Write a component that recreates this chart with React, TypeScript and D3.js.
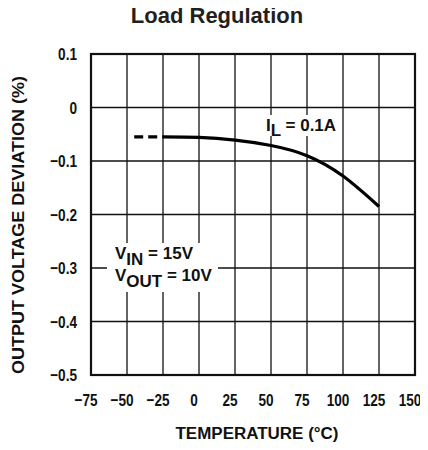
import React, { useEffect, useRef } from 'react';
import * as d3 from 'd3';

const xTicks = [-75, -50, -25, 0, 25, 50, 75, 100, 125, 150];
const yTicks = [0.1, 0, -0.1, -0.2, -0.3, -0.4, -0.5];

// measured curve, I_L = 0.1A
const tempSolid = [-25, 0, 25, 50, 75, 100, 125];
const devSolid = [-0.055, -0.056, -0.061, -0.071, -0.09, -0.128, -0.185];
// extrapolated (dashed) part
const tempDashed = [-45, -25];
const devDashed = [-0.055, -0.055];

const face = "'Liberation Sans', Arial, sans-serif";
const sx = 0.8; // squeeze to mimic a condensed face

const App = () => {
  const ref = useRef<HTMLDivElement>(null);

  useEffect(() => {
    const width = 428;
    const height = 450;
    const m = { left: 91, right: 13, top: 54, bottom: 75 };

    d3.select(ref.current).selectAll('svg').remove();

    const svg = d3.select(ref.current)
      .append('svg')
      .attr('width', width)
      .attr('height', height)
      .style('display', 'block')
      .style('background', '#fff');

    const x = d3.scaleLinear().domain([-75, 150]).range([m.left, width - m.right]);
    const y = d3.scaleLinear().domain([-0.5, 0.1]).range([height - m.bottom, m.top]);

    // title
    svg.append('text')
      .attr('x', 217)
      .attr('y', 23)
      .attr('text-anchor', 'middle')
      .style('font-family', face)
      .style('font-weight', 'bold')
      .style('font-size', '22px')
      .style('fill', '#231f20')
      .text('Load Regulation');

    // grid
    const grid = svg.append('g').attr('stroke', '#111').attr('stroke-width', 1.3);
    grid.selectAll('line.v')
      .data(xTicks.slice(1, -1))
      .enter()
      .append('line')
      .attr('x1', d => x(d))
      .attr('x2', d => x(d))
      .attr('y1', y(0.1))
      .attr('y2', y(-0.5));
    grid.selectAll('line.h')
      .data(yTicks.slice(1, -1))
      .enter()
      .append('line')
      .attr('x1', x(-75))
      .attr('x2', x(150))
      .attr('y1', d => y(d))
      .attr('y2', d => y(d));

    // white boxes behind annotations
    svg.append('rect').attr('x', 107).attr('y', 243).attr('width', 111).attr('height', 49).attr('fill', '#fff');
    svg.append('rect').attr('x', 262).attr('y', 115).attr('width', 79).attr('height', 21).attr('fill', '#fff');

    // frame
    svg.append('rect')
      .attr('x', x(-75))
      .attr('y', y(0.1))
      .attr('width', x(150) - x(-75))
      .attr('height', y(-0.5) - y(0.1))
      .attr('fill', 'none')
      .attr('stroke', '#111')
      .attr('stroke-width', 2.2);

    // curve
    const line = d3.line<number>()
      .x((_, i) => x(tempSolid[i]))
      .y(d => y(d))
      .curve(d3.curveNatural);
    svg.append('path')
      .attr('d', line(devSolid))
      .attr('fill', 'none')
      .attr('stroke', '#000')
      .attr('stroke-width', 3.2);

    const dashLine = d3.line<number>()
      .x((_, i) => x(tempDashed[i]))
      .y(d => y(d));
    svg.append('path')
      .attr('d', dashLine(devDashed))
      .attr('fill', 'none')
      .attr('stroke', '#000')
      .attr('stroke-width', 3.2)
      .attr('stroke-dasharray', '9,5');

    const lbl = (sel: any, size: number) => sel
      .style('font-family', face)
      .style('font-weight', 'bold')
      .style('font-size', `${size}px`)
      .style('fill', '#111');

    // y tick labels
    svg.selectAll('text.yt')
      .data(yTicks)
      .enter()
      .append('text')
      .attr('transform', d => `translate(77,${y(d)}) scale(${sx},1)`)
      .attr('dy', '0.36em')
      .attr('text-anchor', 'end')
      .call(lbl, 17)
      .text(d => (d === 0 ? '0' : d3.format('.1f')(d).replace('-', '\u2212')));

    // x tick labels
    svg.selectAll('text.xt')
      .data(xTicks)
      .enter()
      .append('text')
      .attr('transform', d => `translate(${x(d) - 5},406) scale(${sx},1)`)
      .attr('text-anchor', 'middle')
      .call(lbl, 17)
      .text(d => String(d).replace('-', '\u2212'));

    // axis titles
    svg.append('text')
      .attr('x', 257)
      .attr('y', 439)
      .attr('text-anchor', 'middle')
      .attr('textLength', 163)
      .attr('lengthAdjust', 'spacingAndGlyphs')
      .call(lbl, 16)
      .text('TEMPERATURE (\u00B0C)');

    svg.append('text')
      .attr('transform', 'translate(24,225) rotate(-90)')
      .attr('text-anchor', 'middle')
      .attr('textLength', 298)
      .attr('lengthAdjust', 'spacingAndGlyphs')
      .call(lbl, 16)
      .text('OUTPUT VOLTAGE DEVIATION (%)');

    // annotations
    const vin = svg.append('text').attr('x', 115).attr('y', 259).call(lbl, 17);
    vin.append('tspan').text('V');
    vin.append('tspan').attr('dy', 6).text('IN');
    vin.append('tspan').attr('dy', -6).text(' = 15V');

    const vout = svg.append('text').attr('x', 115).attr('y', 281).call(lbl, 17);
    vout.append('tspan').text('V');
    vout.append('tspan').attr('dy', 6).text('OUT');
    vout.append('tspan').attr('dy', -6).text(' = 10V');

    const il = svg.append('text').attr('x', 266).attr('y', 131).call(lbl, 17);
    il.append('tspan').text('I');
    il.append('tspan').attr('dy', 5).text('L');
    il.append('tspan').attr('dy', -5).text(' = 0.1A');
  }, []);

  return <div ref={ref} style={{ margin: -8 }}></div>;
};

export default App;
